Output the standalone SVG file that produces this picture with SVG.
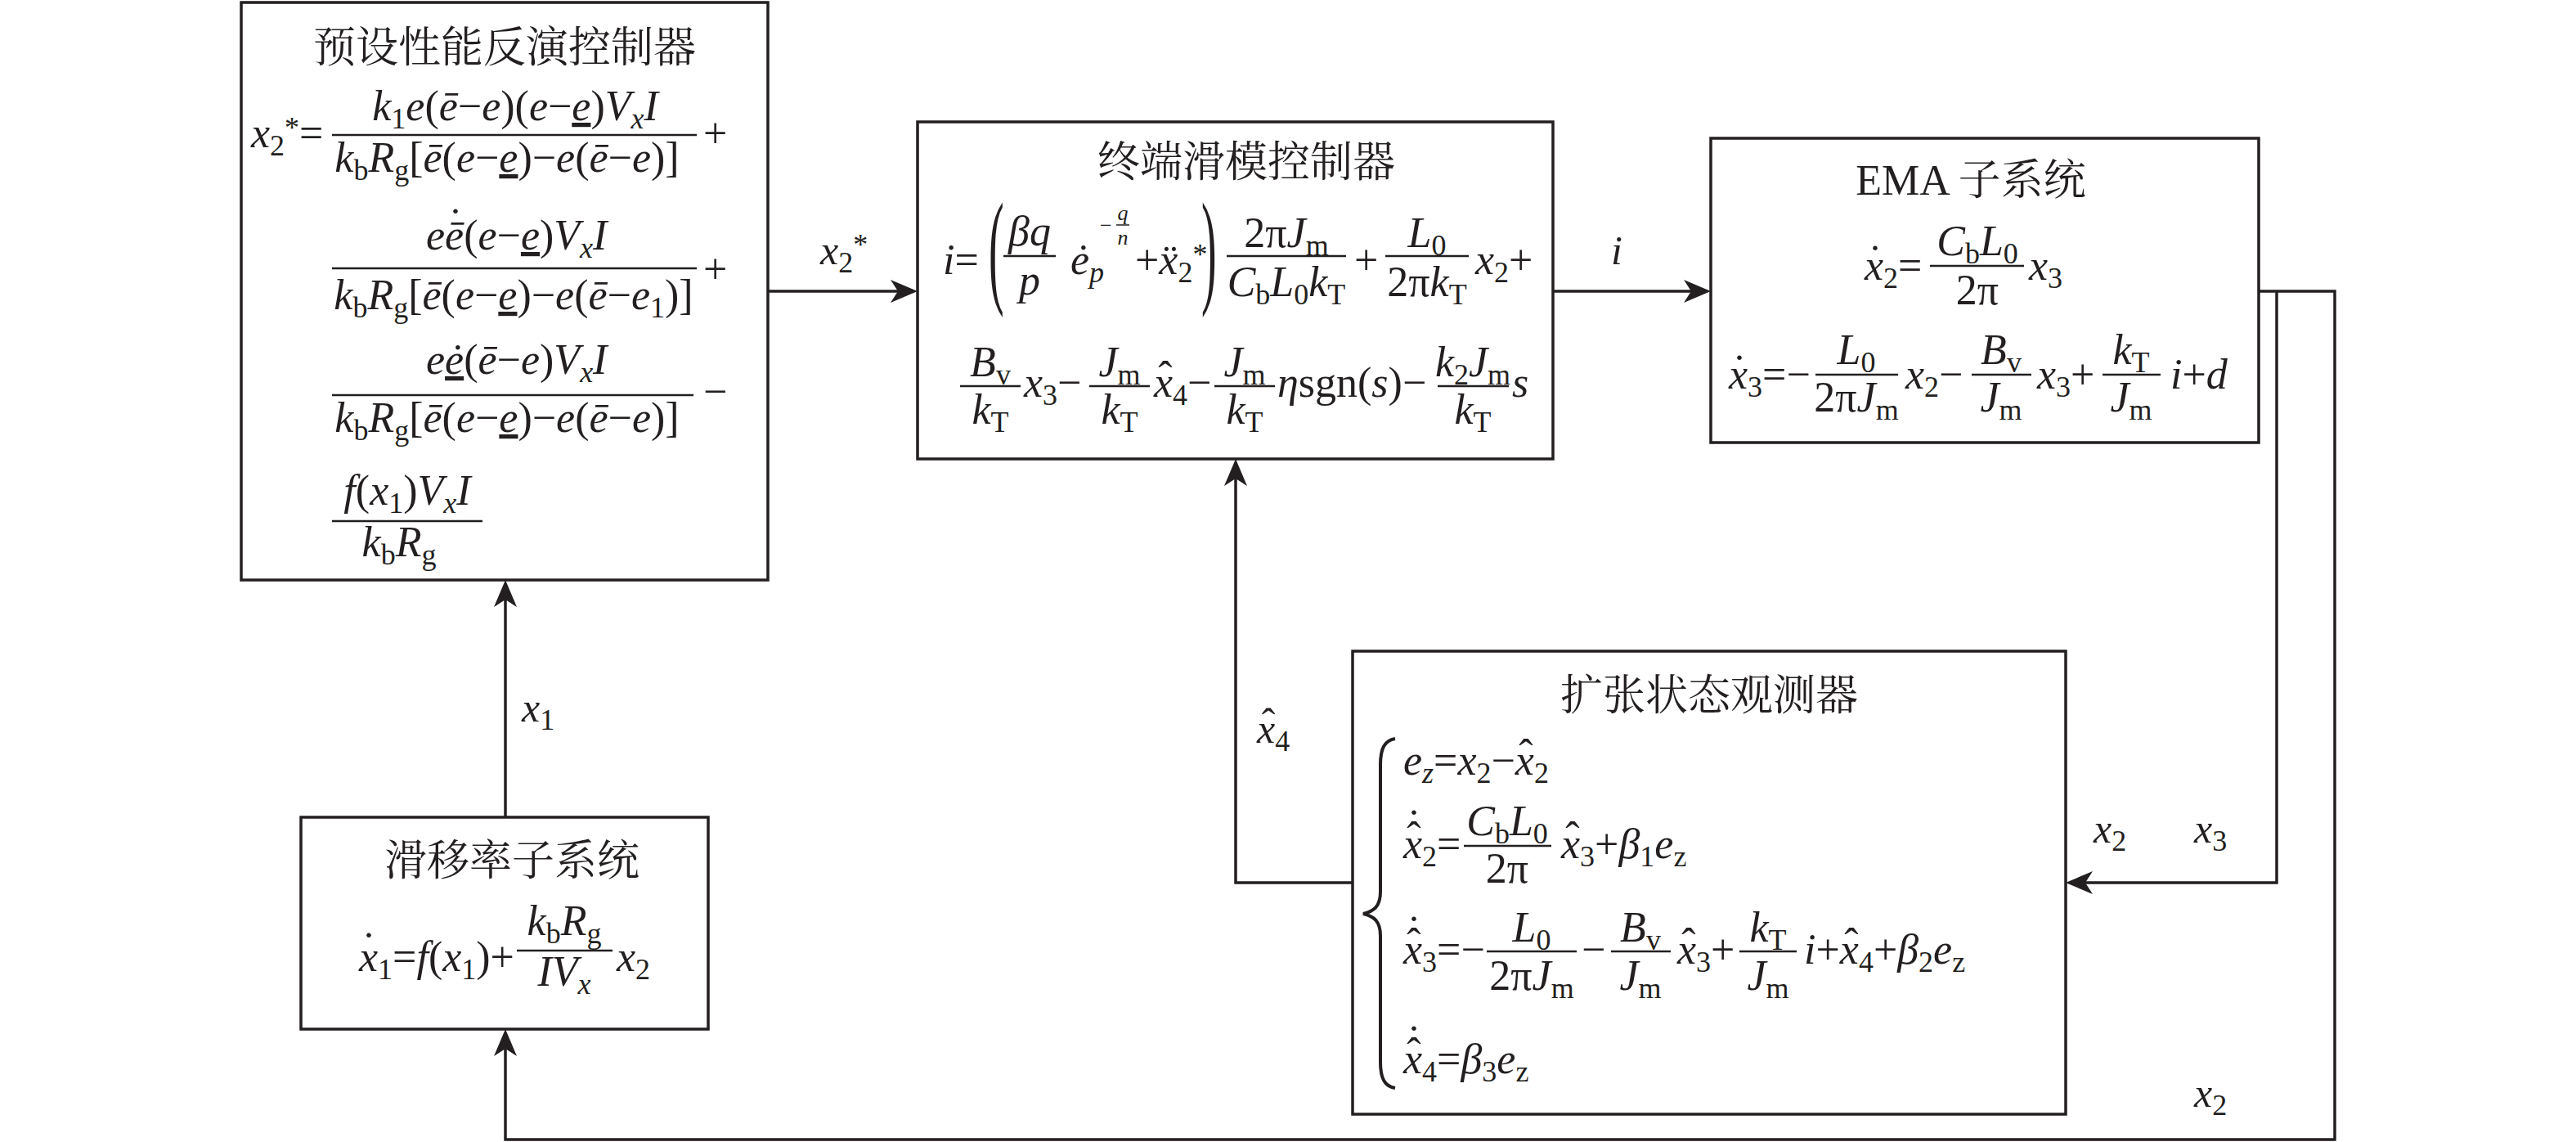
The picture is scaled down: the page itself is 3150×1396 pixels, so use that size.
<svg xmlns="http://www.w3.org/2000/svg" width="3150" height="1396" viewBox="0 0 3150 1396">
<defs>
<style>
text{font-family:"Liberation Serif","Noto Serif CJK SC","Noto Sans CJK SC",serif;font-size:52px;fill:#231f20}
.i{font-style:italic}
.sb{font-size:36px;baseline-shift:-10px}
.sp{font-size:36px;baseline-shift:12px}
.u{text-decoration:underline}
.m{text-anchor:middle}
.cn{font-family:"Liberation Serif","Noto Serif CJK SC","Noto Sans CJK SC",sans-serif;font-size:52px}
.lb{font-size:50px}
.sm{font-size:26px}
.box{fill:none;stroke:#231f20;stroke-width:3.5}
.fb{stroke:#231f20;stroke-width:2.6}
.cx{fill:none;stroke:#231f20;stroke-width:3.5}
.br{fill:none;stroke:#231f20;stroke-width:4}
</style>
<marker id="ah" viewBox="-36 -16 40 32" refX="-20" refY="0" markerWidth="40" markerHeight="32" markerUnits="userSpaceOnUse" orient="auto"><path d="M0,0 L-33,-14 L-24,0 L-33,14 Z" fill="#231f20"/></marker>
</defs>
<rect width="3150" height="1396" fill="#fff"/>

<g id="preset-controller">
<rect class="box" x="295" y="3" width="644" height="706"/>
<text class="cn m" x="617" y="76">预设性能反演控制器</text>
<text x="307" y="180"><tspan class="i">x</tspan><tspan class="sb">2</tspan><tspan class="sp">*</tspan>=</text>
<text class="m" x="630" y="147"><tspan class="i">k</tspan><tspan class="sb">1</tspan><tspan class="i">e</tspan>(<tspan class="i">ē</tspan>−<tspan class="i">e</tspan>)(<tspan class="i">e</tspan>−<tspan class="i u">e</tspan>)<tspan class="i">V</tspan><tspan class="sb i">x</tspan><tspan class="i">I</tspan></text>
<line class="fb" x1="406" y1="165" x2="852" y2="165"/>
<text class="m" x="620" y="210"><tspan class="i">k</tspan><tspan class="sb">b</tspan><tspan class="i">R</tspan><tspan class="sb">g</tspan>[<tspan class="i">ē</tspan>(<tspan class="i">e</tspan>−<tspan class="i u">e</tspan>)−<tspan class="i">e</tspan>(<tspan class="i">ē</tspan>−<tspan class="i">e</tspan>)]</text>
<text x="860" y="180">+</text>
<text x="521" y="305"><tspan class="i">eē</tspan>(<tspan class="i">e</tspan>−<tspan class="i u">e</tspan>)<tspan class="i">V</tspan><tspan class="sb i">x</tspan><tspan class="i">I</tspan></text>
<text class="m" x="557" y="291">˙</text>
<line class="fb" x1="406" y1="328" x2="852" y2="328"/>
<text class="m" x="628" y="378"><tspan class="i">k</tspan><tspan class="sb">b</tspan><tspan class="i">R</tspan><tspan class="sb">g</tspan>[<tspan class="i">ē</tspan>(<tspan class="i">e</tspan>−<tspan class="i u">e</tspan>)−<tspan class="i">e</tspan>(<tspan class="i">ē</tspan>−<tspan class="i">e</tspan><tspan class="sb">1</tspan>)]</text>
<text x="860" y="346">+</text>
<text x="521" y="457"><tspan class="i">e</tspan><tspan class="i u">ė</tspan>(<tspan class="i">ē</tspan>−<tspan class="i">e</tspan>)<tspan class="i">V</tspan><tspan class="sb i">x</tspan><tspan class="i">I</tspan></text>
<line class="fb" x1="406" y1="483" x2="848" y2="483"/>
<text class="m" x="620" y="528"><tspan class="i">k</tspan><tspan class="sb">b</tspan><tspan class="i">R</tspan><tspan class="sb">g</tspan>[<tspan class="i">ē</tspan>(<tspan class="i">e</tspan>−<tspan class="i u">e</tspan>)−<tspan class="i">e</tspan>(<tspan class="i">ē</tspan>−<tspan class="i">e</tspan>)]</text>
<text x="860" y="496">−</text>
<text class="m" x="498" y="617"><tspan class="i">f</tspan>(<tspan class="i">x</tspan><tspan class="sb">1</tspan>)<tspan class="i">V</tspan><tspan class="sb i">x</tspan><tspan class="i">I</tspan></text>
<line class="fb" x1="406" y1="637" x2="590" y2="637"/>
<text class="m" x="488" y="680"><tspan class="i">k</tspan><tspan class="sb">b</tspan><tspan class="i">R</tspan><tspan class="sb">g</tspan></text>
</g>

<g id="terminal-sliding-mode-controller">
<rect class="box" x="1122" y="149" width="777" height="412"/>
<text class="cn m" x="1524" y="216">终端滑模控制器</text>
<text x="1153" y="335"><tspan class="i">i</tspan>=</text>
<text transform="translate(1209,355) scale(0.36,1)" style="font-size:155px">(</text>
<text class="m i" x="1259" y="300">βq</text>
<line class="fb" x1="1227" y1="313" x2="1291" y2="313"/>
<text class="m i" x="1259" y="360">p</text>
<text x="1309" y="335"><tspan class="i">ė</tspan><tspan class="sb i">p</tspan></text>
<text class="sm" x="1345" y="284">−</text>
<text class="sm i m" x="1373" y="269">q</text>
<line x1="1365" y1="275" x2="1381" y2="275" stroke="#231f20" stroke-width="1.5"/>
<text class="sm i m" x="1373" y="299">n</text>
<text x="1388" y="335">+<tspan class="i">x</tspan><tspan class="sb">2</tspan><tspan class="sp">*</tspan></text>
<text class="m" x="1431" y="335">¨</text>
<text transform="translate(1469,355) scale(0.36,1)" style="font-size:155px">)</text>
<line class="fb" x1="1500" y1="313" x2="1646" y2="313"/>
<text class="m" x="1573" y="302">2π<tspan class="i">J</tspan><tspan class="sb">m</tspan></text>
<text class="m" x="1573" y="362"><tspan class="i">C</tspan><tspan class="sb">b</tspan><tspan class="i">L</tspan><tspan class="sb">0</tspan><tspan class="i">k</tspan><tspan class="sb">T</tspan></text>
<text x="1656" y="335">+</text>
<line class="fb" x1="1694" y1="313" x2="1796" y2="313"/>
<text class="m" x="1745" y="302"><tspan class="i">L</tspan><tspan class="sb">0</tspan></text>
<text class="m" x="1745" y="362">2π<tspan class="i">k</tspan><tspan class="sb">T</tspan></text>
<text x="1804" y="335"><tspan class="i">x</tspan><tspan class="sb">2</tspan>+</text>
<line class="fb" x1="1174" y1="472" x2="1248" y2="472"/>
<text class="m" x="1211" y="460"><tspan class="i">B</tspan><tspan class="sb">v</tspan></text>
<text class="m" x="1211" y="518"><tspan class="i">k</tspan><tspan class="sb">T</tspan></text>
<text x="1252" y="485"><tspan class="i">x</tspan><tspan class="sb">3</tspan>−</text>
<line class="fb" x1="1332" y1="472" x2="1406" y2="472"/>
<text class="m" x="1369" y="460"><tspan class="i">J</tspan><tspan class="sb">m</tspan></text>
<text class="m" x="1369" y="518"><tspan class="i">k</tspan><tspan class="sb">T</tspan></text>
<text x="1411" y="485"><tspan class="i">x</tspan><tspan class="sb">4</tspan>−</text>
<text class="m" x="1425" y="478">ˆ</text>
<line class="fb" x1="1485" y1="472" x2="1559" y2="472"/>
<text class="m" x="1522" y="460"><tspan class="i">J</tspan><tspan class="sb">m</tspan></text>
<text class="m" x="1522" y="518"><tspan class="i">k</tspan><tspan class="sb">T</tspan></text>
<text x="1562" y="485"><tspan class="i">η</tspan>sgn(<tspan class="i">s</tspan>)−</text>
<line class="fb" x1="1758" y1="472" x2="1845" y2="472"/>
<text class="m" x="1801" y="460"><tspan class="i">k</tspan><tspan class="sb">2</tspan><tspan class="i">J</tspan><tspan class="sb">m</tspan></text>
<text class="m" x="1801" y="518"><tspan class="i">k</tspan><tspan class="sb">T</tspan></text>
<text class="i" x="1849" y="485">s</text>
</g>

<g id="ema-subsystem">
<rect class="box" x="2092" y="169" width="670" height="372"/>
<text class="cn m" x="2410" y="238">EMA 子系统</text>
<text x="2280" y="342"><tspan class="i">x</tspan><tspan class="sb">2</tspan>=</text>
<text class="m" x="2293" y="336">˙</text>
<line class="fb" x1="2360" y1="325" x2="2475" y2="325"/>
<text class="m" x="2418" y="312"><tspan class="i">C</tspan><tspan class="sb">b</tspan><tspan class="i">L</tspan><tspan class="sb">0</tspan></text>
<text class="m" x="2418" y="372">2π</text>
<text x="2481" y="342"><tspan class="i">x</tspan><tspan class="sb">3</tspan></text>
<text x="2114" y="475"><tspan class="i">x</tspan><tspan class="sb">3</tspan>=−</text>
<text class="m" x="2127" y="470">˙</text>
<line class="fb" x1="2220" y1="458" x2="2321" y2="458"/>
<text class="m" x="2270" y="445"><tspan class="i">L</tspan><tspan class="sb">0</tspan></text>
<text class="m" x="2270" y="503">2π<tspan class="i">J</tspan><tspan class="sb">m</tspan></text>
<text x="2330" y="475"><tspan class="i">x</tspan><tspan class="sb">2</tspan>−</text>
<line class="fb" x1="2411" y1="458" x2="2484" y2="458"/>
<text class="m" x="2447" y="445"><tspan class="i">B</tspan><tspan class="sb">v</tspan></text>
<text class="m" x="2447" y="503"><tspan class="i">J</tspan><tspan class="sb">m</tspan></text>
<text x="2491" y="475"><tspan class="i">x</tspan><tspan class="sb">3</tspan>+</text>
<line class="fb" x1="2571" y1="458" x2="2642" y2="458"/>
<text class="m" x="2606" y="445"><tspan class="i">k</tspan><tspan class="sb">T</tspan></text>
<text class="m" x="2606" y="503"><tspan class="i">J</tspan><tspan class="sb">m</tspan></text>
<text x="2654" y="475"><tspan class="i">i</tspan>+<tspan class="i">d</tspan></text>
</g>

<g id="extended-state-observer">
<rect class="box" x="1654" y="796" width="872" height="566"/>
<text class="cn m" x="2090" y="868">扩张状态观测器</text>
<path class="br" d="M1706,903 C1693,905 1688,915 1688,935 L1688,1090 C1688,1108 1680,1114 1667,1117 C1680,1120 1688,1126 1688,1144 L1688,1298 C1688,1318 1693,1328 1706,1330"/>
<text x="1716" y="947"><tspan class="i">e</tspan><tspan class="sb i">z</tspan>=<tspan class="i">x</tspan><tspan class="sb">2</tspan>−<tspan class="i">x</tspan><tspan class="sb">2</tspan></text>
<text class="m" x="1866" y="940">ˆ</text>
<text x="1716" y="1049"><tspan class="i">x</tspan><tspan class="sb">2</tspan>=</text>
<text class="m" x="1729" y="1041">ˆ</text>
<text class="m" x="1729" y="1026">˙</text>
<line class="fb" x1="1790" y1="1034" x2="1897" y2="1034"/>
<text class="m" x="1843" y="1021"><tspan class="i">C</tspan><tspan class="sb">b</tspan><tspan class="i">L</tspan><tspan class="sb">0</tspan></text>
<text class="m" x="1843" y="1079">2π</text>
<text x="1909" y="1049"><tspan class="i">x</tspan><tspan class="sb">3</tspan>+<tspan class="i">β</tspan><tspan class="sb">1</tspan><tspan class="i">e</tspan><tspan class="sb">z</tspan></text>
<text class="m" x="1923" y="1041">ˆ</text>
<text x="1716" y="1178"><tspan class="i">x</tspan><tspan class="sb">3</tspan>=−</text>
<text class="m" x="1729" y="1171">ˆ</text>
<text class="m" x="1729" y="1156">˙</text>
<line class="fb" x1="1818" y1="1163" x2="1928" y2="1163"/>
<text class="m" x="1873" y="1151"><tspan class="i">L</tspan><tspan class="sb">0</tspan></text>
<text class="m" x="1873" y="1210">2π<tspan class="i">J</tspan><tspan class="sb">m</tspan></text>
<text x="1934" y="1178">−</text>
<line class="fb" x1="1970" y1="1163" x2="2043" y2="1163"/>
<text class="m" x="2006" y="1151"><tspan class="i">B</tspan><tspan class="sb">v</tspan></text>
<text class="m" x="2006" y="1210"><tspan class="i">J</tspan><tspan class="sb">m</tspan></text>
<text x="2051" y="1178"><tspan class="i">x</tspan><tspan class="sb">3</tspan>+</text>
<text class="m" x="2065" y="1171">ˆ</text>
<line class="fb" x1="2127" y1="1163" x2="2197" y2="1163"/>
<text class="m" x="2162" y="1151"><tspan class="i">k</tspan><tspan class="sb">T</tspan></text>
<text class="m" x="2162" y="1210"><tspan class="i">J</tspan><tspan class="sb">m</tspan></text>
<text x="2206" y="1178"><tspan class="i">i</tspan>+<tspan class="i">x</tspan><tspan class="sb">4</tspan>+<tspan class="i">β</tspan><tspan class="sb">2</tspan><tspan class="i">e</tspan><tspan class="sb">z</tspan></text>
<text class="m" x="2264" y="1171">ˆ</text>
<text x="1716" y="1312"><tspan class="i">x</tspan><tspan class="sb">4</tspan>=<tspan class="i">β</tspan><tspan class="sb">3</tspan><tspan class="i">e</tspan><tspan class="sb">z</tspan></text>
<text class="m" x="1729" y="1305">ˆ</text>
<text class="m" x="1729" y="1290">˙</text>
</g>

<g id="slip-rate-subsystem">
<rect class="box" x="368" y="999" width="498" height="259"/>
<text class="cn m" x="626" y="1070">滑移率子系统</text>
<text x="439" y="1187"><tspan class="i">x</tspan><tspan class="sb">1</tspan>=<tspan class="i">f</tspan>(<tspan class="i">x</tspan><tspan class="sb">1</tspan>)+</text>
<text class="m" x="451" y="1176">˙</text>
<line class="fb" x1="632" y1="1162" x2="749" y2="1162"/>
<text class="m" x="690" y="1143"><tspan class="i">k</tspan><tspan class="sb">b</tspan><tspan class="i">R</tspan><tspan class="sb">g</tspan></text>
<text class="m" x="690" y="1205"><tspan class="i">IV</tspan><tspan class="sb i">x</tspan></text>
<text x="754" y="1187"><tspan class="i">x</tspan><tspan class="sb">2</tspan></text>
</g>

<g id="connectors">
<path class="cx" d="M939,356 H1102" marker-end="url(#ah)"/>
<path class="cx" d="M1899,356 H2072" marker-end="url(#ah)"/>
<path class="cx" d="M2762,356 H2855 V1393 H618 V1278" marker-end="url(#ah)"/>
<path class="cx" d="M2784,356 V1079 H2546" marker-end="url(#ah)"/>
<path class="cx" d="M1654,1079 H1511 V581" marker-end="url(#ah)"/>
<path class="cx" d="M618,999 V729" marker-end="url(#ah)"/>
<text class="lb" x="1003" y="323"><tspan class="i">x</tspan><tspan class="sb">2</tspan><tspan class="sp">*</tspan></text>
<text class="lb i" x="1970" y="323">i</text>
<text class="lb" x="1537" y="908"><tspan class="i">x</tspan><tspan class="sb">4</tspan></text>
<text class="lb m" x="1551" y="901">ˆ</text>
<text class="lb" x="638" y="882"><tspan class="i">x</tspan><tspan class="sb">1</tspan></text>
<text class="lb" x="2560" y="1030"><tspan class="i">x</tspan><tspan class="sb">2</tspan></text>
<text class="lb" x="2683" y="1030"><tspan class="i">x</tspan><tspan class="sb">3</tspan></text>
<text class="lb" x="2683" y="1353"><tspan class="i">x</tspan><tspan class="sb">2</tspan></text>
</g>
</svg>
